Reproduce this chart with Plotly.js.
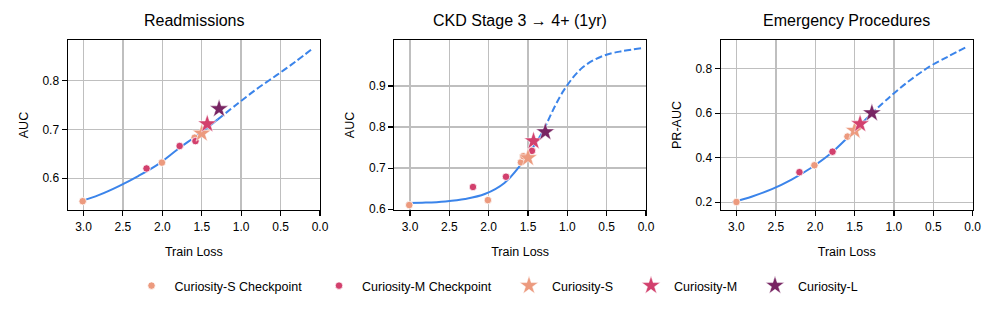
<!DOCTYPE html>
<html>
<head>
<meta charset="utf-8">
<script src="https://cdn.plot.ly/plotly-3.0.1.min.js"></script>
<style>html,body{margin:0;padding:0;background:#fff;}#chart{width:997px;height:312px;}</style>
</head>
<body>
<div id="chart"></div>
<script>
// ---- Data ----
const panelTitles = ["Readmissions", "CKD Stage 3 \u2192 4+ (1yr)", "Emergency Procedures"];
const yTitles = ["AUC", "AUC", "PR-AUC"];
const xTickVals = [3.0, 2.5, 2.0, 1.5, 1.0, 0.5, 0.0];
const yTickVals1 = [0.6, 0.7, 0.8];
const yTickVals2 = [0.6, 0.7, 0.8, 0.9];
const yTickVals3 = [0.2, 0.4, 0.6, 0.8];
const seriesNames = ["Curiosity-S Checkpoint", "Curiosity-M Checkpoint", "Curiosity-S", "Curiosity-M", "Curiosity-L"];

const p1FitSolidX = [3.05, 2.8, 2.55, 2.3, 2.05, 1.8, 1.55, 1.3];
const p1FitSolidY = [0.552, 0.566, 0.584, 0.605, 0.629, 0.660, 0.689, 0.720];
const p1FitDashX = [1.3, 1.05, 0.8, 0.55, 0.3, 0.09];
const p1FitDashY = [0.720, 0.752, 0.783, 0.811, 0.840, 0.866];
const p1SCkX = [3.01, 2.005, 1.59];
const p1SCkY = [0.553, 0.632, 0.683];
const p1MCkX = [2.20, 1.78, 1.58];
const p1MCkY = [0.620, 0.666, 0.676];
const p1StarX = [1.50, 1.43, 1.28];
const p1StarY = [0.692, 0.711, 0.742];

// Panel 2: CKD Stage 3 -> 4+
const p2FitSolidX = [3.05, 2.8, 2.55, 2.3, 2.05, 1.8, 1.55, 1.3];
const p2FitSolidY = [0.615, 0.616, 0.619, 0.625, 0.637, 0.664, 0.719, 0.792];
const p2FitDashX = [1.3, 1.05, 0.8, 0.55, 0.3, 0.05];
const p2FitDashY = [0.792, 0.888, 0.946, 0.973, 0.985, 0.992];
const p2SCkX = [3.01, 2.01, 1.59, 1.56];
const p2SCkY = [0.610, 0.622, 0.714, 0.729];
const p2MCkX = [2.20, 1.78, 1.45];
const p2MCkY = [0.654, 0.679, 0.742];
const p2StarX = [1.50, 1.43, 1.28];
const p2StarY = [0.725, 0.766, 0.788];

// Panel 3: Emergency Procedures
const p3FitSolidX = [3.05, 2.8, 2.55, 2.3, 2.05, 1.8, 1.55, 1.3];
const p3FitSolidY = [0.200, 0.226, 0.259, 0.302, 0.355, 0.420, 0.504, 0.593];
const p3FitDashX = [1.3, 1.05, 0.8, 0.55, 0.3, 0.085];
const p3FitDashY = [0.593, 0.674, 0.747, 0.809, 0.857, 0.897];
const p3SCkX = [3.0, 2.01, 1.59];
const p3SCkY = [0.201, 0.366, 0.495];
const p3MCkX = [2.20, 1.78];
const p3MCkY = [0.335, 0.427];
const p3StarX = [1.50, 1.43, 1.28];
const p3StarY = [0.522, 0.552, 0.601];

// ---- Styles ----
const colS = "#ec9a7e";
const colM = "#d2406d";
const colL = "#782563";
const colLine = "#3b84ea";
const FONT = "Liberation Sans, Arial, Helvetica, sans-serif";

const panels = [
  {fsx:p1FitSolidX, fsy:p1FitSolidY, fdx:p1FitDashX, fdy:p1FitDashY, sx:p1SCkX, sy:p1SCkY, mx:p1MCkX, my:p1MCkY, stx:p1StarX, sty:p1StarY},
  {fsx:p2FitSolidX, fsy:p2FitSolidY, fdx:p2FitDashX, fdy:p2FitDashY, sx:p2SCkX, sy:p2SCkY, mx:p2MCkX, my:p2MCkY, stx:p2StarX, sty:p2StarY},
  {fsx:p3FitSolidX, fsy:p3FitSolidY, fdx:p3FitDashX, fdy:p3FitDashY, sx:p3SCkX, sy:p3SCkY, mx:p3MCkX, my:p3MCkY, stx:p3StarX, sty:p3StarY}
];

const legendIds = ["legend", "legend2", "legend3", "legend4", "legend5"];

const traces = [];
panels.forEach((p, i) => {
  const xa = i === 0 ? "x" : "x" + (i + 1);
  const ya = i === 0 ? "y" : "y" + (i + 1);
  const first = i === 0;
  traces.push({x:p.fsx, y:p.fsy, xaxis:xa, yaxis:ya, mode:"lines", showlegend:false, hoverinfo:"skip",
    line:{color:colLine, width:2, shape:"spline", smoothing:1}});
  traces.push({x:p.fdx, y:p.fdy, xaxis:xa, yaxis:ya, mode:"lines", showlegend:false, hoverinfo:"skip",
    line:{color:colLine, width:2, shape:"spline", smoothing:1, dash:"7px,3px"}});
  traces.push({x:p.sx, y:p.sy, xaxis:xa, yaxis:ya, mode:"markers", name:seriesNames[0], legend:legendIds[0], showlegend:first,
    marker:{symbol:"circle", size:7.5, color:colS, line:{color:"#ffffff", width:0.8}}});
  traces.push({x:p.mx, y:p.my, xaxis:xa, yaxis:ya, mode:"markers", name:seriesNames[1], legend:legendIds[1], showlegend:first,
    marker:{symbol:"circle", size:7.5, color:colM, line:{color:"#ffffff", width:0.8}}});
  traces.push({x:[p.stx[0]], y:[p.sty[0]], xaxis:xa, yaxis:ya, mode:"markers", name:seriesNames[2], legend:legendIds[2], showlegend:first,
    marker:{symbol:"star", size:14, color:colS, line:{color:"#ffffff", width:0.5}}});
  traces.push({x:[p.stx[1]], y:[p.sty[1]], xaxis:xa, yaxis:ya, mode:"markers", name:seriesNames[3], legend:legendIds[3], showlegend:first,
    marker:{symbol:"star", size:14, color:colM, line:{color:"#ffffff", width:0.5}}});
  traces.push({x:[p.stx[2]], y:[p.sty[2]], xaxis:xa, yaxis:ya, mode:"markers", name:seriesNames[4], legend:legendIds[4], showlegend:first,
    marker:{symbol:"star", size:14, color:colL, line:{color:"#ffffff", width:0.5}}});
});

const W = 997, H = 312;
const xDomains = [[67.7/W, 320/W], [394.3/W, 646/W], [720.7/W, 972.7/W]];
const yDomain = [1 - 210/H, 1 - 40/H];
const yRanges = [[0.535, 0.883], [0.598, 1.012], [0.165, 0.929]];
const yTicks = [yTickVals1, yTickVals2, yTickVals3];

const baseAxis = {
  showline:true, mirror:true, linecolor:"#000", linewidth:1.2,
  ticks:"outside", ticklen:5, tickwidth:1.2, tickcolor:"#000",
  showgrid:true, gridcolor:"#bfbfbf", gridwidth:1.4,
  zeroline:false, tickfont:{family:FONT, size:12, color:"#000"},
  tickformat:".1f", fixedrange:true
};

const layout = {
  width:W, height:H, margin:{l:0, r:0, t:0, b:0},
  paper_bgcolor:"#fff", plot_bgcolor:"#fff",
  font:{family:FONT, color:"#000"},
  showlegend:true,
  annotations:[]
};

// one single-entry legend per series, so each entry sits where the reference has it
const legendMarkerX = [151.5, 339, 529, 651, 775];
legendIds.forEach((id, k) => {
  layout[id] = {orientation:"h", x:(legendMarkerX[k] - 23) / W, xanchor:"left", y:1 - 286/H, yanchor:"middle",
    font:{family:FONT, size:12.5, color:"#000"}, itemwidth:36, bgcolor:"rgba(0,0,0,0)", borderwidth:0};
});

for (let i = 0; i < 3; i++) {
  const sfx = i === 0 ? "" : String(i + 1);
  layout["xaxis" + sfx] = Object.assign({}, baseAxis, {
    domain:xDomains[i], anchor:"y" + sfx, range:[3.2, 0.0], tickvals:xTickVals,
    title:{text:"Train Loss", font:{family:FONT, size:12.5, color:"#000"}, standoff:14}
  });
  layout["yaxis" + sfx] = Object.assign({}, baseAxis, {
    domain:yDomain, anchor:"x" + sfx, range:yRanges[i], tickvals:yTicks[i],
    title:{text:yTitles[i], font:{family:FONT, size:12.5, color:"#000"}, standoff:11}
  });
  layout.annotations.push({
    text:panelTitles[i], xref:"paper", yref:"paper",
    x:(xDomains[i][0] + xDomains[i][1]) / 2, y:1 - 21/H, xanchor:"center", yanchor:"middle",
    showarrow:false, font:{family:FONT, size:16, color:"#000"}
  });
}

Plotly.newPlot("chart", traces, layout, {displayModeBar:false, staticPlot:true});
</script>
</body>
</html>
